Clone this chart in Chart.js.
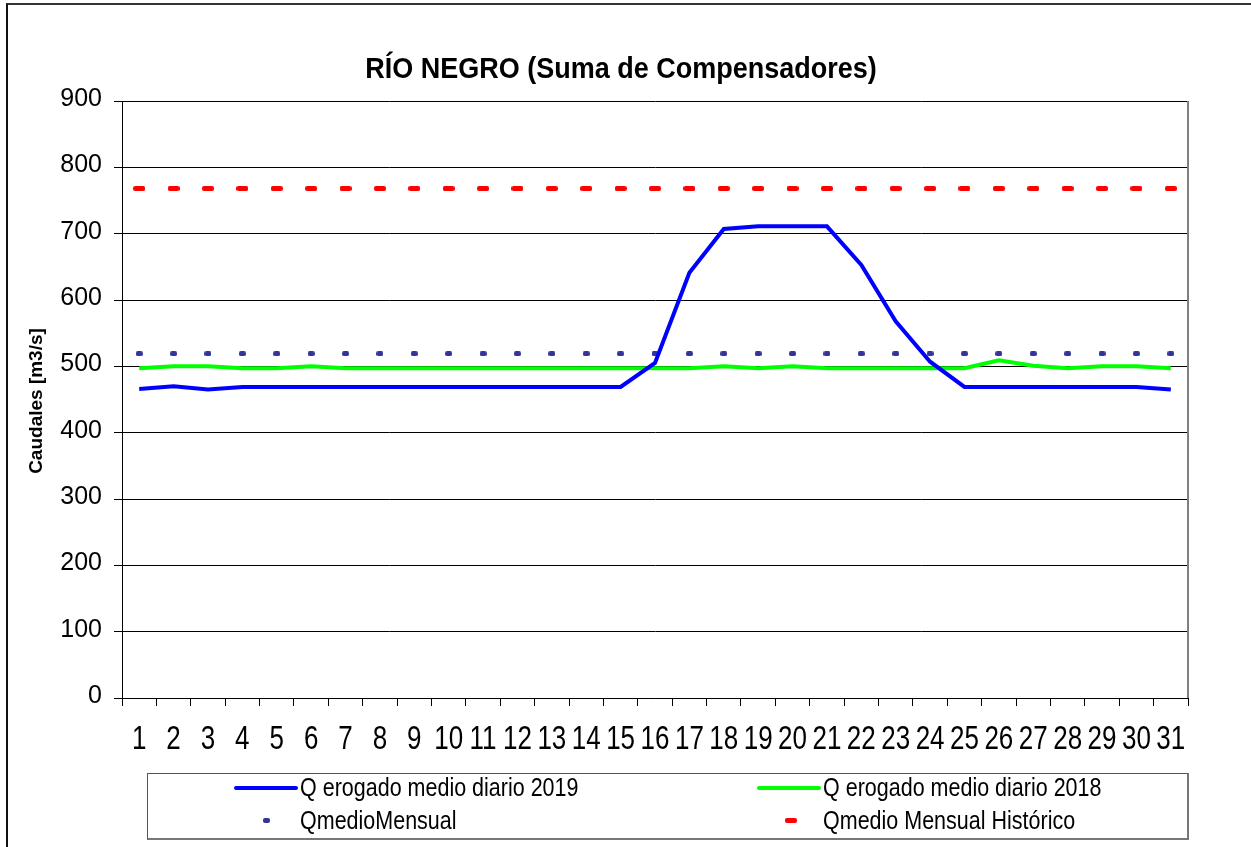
<!DOCTYPE html>
<html>
<head>
<meta charset="utf-8">
<script src="https://cdn.jsdelivr.net/npm/chart.js@4"></script>
<style>
  body { margin: 0; background: #fff; font-family: "Liberation Sans", Arial, sans-serif; }
  #wrap { position: relative; width: 1251px; height: 847px; overflow: hidden; }
  #frame { position: absolute; left: 6px; top: 3px; width: 1300px; height: 900px; border-top: 2px solid #333; border-left: 2px solid #111; }
  canvas { position: absolute; left: 0; top: 0; }
  #legend { position: absolute; left: 147px; top: 773px; width: 1039px; height: 64px; border: 1px solid #444; border-right-width: 2px; border-bottom-width: 2px; border-color: #555 #777 #777 #555; }
  .sw { position: absolute; border-radius: 2px; }
  .lt { position: absolute; font-size: 21.5px; color: #000; line-height: 20px; white-space: nowrap; transform: scaleY(1.2); transform-origin: left center; }
</style>
</head>
<body>
<div id="wrap">
  <div id="frame"></div>
  <canvas id="chart" width="1251" height="847"></canvas>
  <div id="legend">
    <div class="sw" style="left:86px;top:12px;width:64px;height:4px;background:#0000ff"></div>
    <div class="lt" style="left:152px;top:4px">Q erogado medio diario 2019</div>
    <div class="sw" style="left:609px;top:12px;width:64px;height:4px;background:#00ff00"></div>
    <div class="lt" style="left:675px;top:4px">Q erogado medio diario 2018</div>
    <div class="sw" style="left:115px;top:44px;width:7px;height:5px;background:#333399"></div>
    <div class="lt" style="left:152px;top:37px">QmedioMensual</div>
    <div class="sw" style="left:637px;top:44px;width:12px;height:5px;background:#ff0000"></div>
    <div class="lt" style="left:675px;top:37px">Qmedio Mensual Histórico</div>
  </div>
</div>
<script>
const dias = ['1','2','3','4','5','6','7','8','9','10','11','12','13','14','15','16',
  '17','18','19','20','21','22','23','24','25','26','27','28','29','30','31'];

const qErogado2019 = [466, 470, 465, 469, 469, 469, 469, 469, 469, 469, 469, 469, 469, 469, 469,
  505, 641, 707, 711, 711, 711, 653, 568, 507, 469, 469, 469, 469, 469, 469, 465];

const qErogado2018 = [497, 500, 500, 497, 497, 500, 497, 497, 497, 497, 497, 497, 497, 497, 497,
  497, 497, 500, 497, 500, 497, 497, 497, 497, 497, 509, 501, 497, 500, 500, 497];

const qMedioMensual = [519, 519, 519, 519, 519, 519, 519, 519, 519, 519, 519, 519, 519, 519, 519,
  519, 519, 519, 519, 519, 519, 519, 519, 519, 519, 519, 519, 519, 519, 519, 519];

const qMedioHistorico = [768, 768, 768, 768, 768, 768, 768, 768, 768, 768, 768, 768, 768, 768, 768,
  768, 768, 768, 768, 768, 768, 768, 768, 768, 768, 768, 768, 768, 768, 768, 768];

const yTicks = [0, 100, 200, 300, 400, 500, 600, 700, 800, 900];

const FONT = '"Liberation Sans", Arial, sans-serif';

function makeDash(w, h, color) {
  const c = document.createElement('canvas');
  c.width = w;
  c.height = h;
  const g = c.getContext('2d');
  g.fillStyle = color;
  g.beginPath();
  g.roundRect(0, 0, w, h, 2);
  g.fill();
  return c;
}

// tick labels are drawn by hand: the original font is stretched
const decor = {
  id: 'decor',
  afterDraw(chart) {
    const { ctx, chartArea, scales } = chart;
    ctx.save();
    ctx.strokeStyle = '#808080';
    ctx.lineWidth = 2;
    ctx.beginPath();
    ctx.moveTo(chartArea.right, chartArea.top);
    ctx.lineTo(chartArea.right, chartArea.bottom);
    ctx.stroke();

    ctx.fillStyle = '#000';
    ctx.textBaseline = 'middle';

    ctx.font = '25px ' + FONT;
    ctx.textAlign = 'right';
    yTicks.forEach((v) => {
      ctx.fillText(String(v), 102, scales.y.getPixelForValue(v) - 2);
    });

    ctx.font = '26px ' + FONT;
    ctx.textAlign = 'center';
    dias.forEach((d, i) => {
      ctx.save();
      ctx.translate(scales.x.getPixelForValue(i), 740);
      ctx.scale(1, 1.28);
      ctx.fillText(d, 0, 0);
      ctx.restore();
    });

    ctx.font = 'bold 27px ' + FONT;
    ctx.save();
    ctx.translate(621, 70);
    ctx.scale(1, 1.1);
    ctx.fillText('RÍO NEGRO (Suma de Compensadores)', 0, 0);
    ctx.restore();

    ctx.translate(37, 401);
    ctx.rotate(-Math.PI / 2);
    ctx.font = 'bold 19px ' + FONT;
    ctx.fillText('Caudales [m3/s]', 0, 0);
    ctx.restore();
  }
};

new Chart(document.getElementById('chart'), {
  type: 'line',
  data: {
    labels: dias,
    datasets: [
      {
        label: 'Q erogado medio diario 2019',
        data: qErogado2019,
        borderColor: '#0000ff',
        borderWidth: 4,
        pointRadius: 0,
        tension: 0,
        order: 1,
      },
      {
        label: 'Q erogado medio diario 2018',
        data: qErogado2018,
        borderColor: '#00ff00',
        borderWidth: 4,
        pointRadius: 0,
        tension: 0,
        order: 2,
      },
      {
        label: 'QmedioMensual',
        data: qMedioMensual,
        showLine: false,
        pointStyle: makeDash(7, 5, '#333399'),
        order: 3,
      },
      {
        label: 'Qmedio Mensual Histórico',
        data: qMedioHistorico,
        showLine: false,
        pointStyle: makeDash(12, 5, '#ff0000'),
        order: 4,
      },
    ],
  },
  options: {
    responsive: false,
    animation: false,
    layout: { padding: { left: 0, right: 63, top: 101, bottom: 89 } },
    plugins: {
      legend: { display: false },
      tooltip: { enabled: false },
    },
    scales: {
      x: {
        offset: true,
        grid: { offset: true, drawOnChartArea: false, drawTicks: true, tickLength: 8, color: '#000' },
        border: { color: '#000', width: 1 },
        ticks: { display: false, autoSkip: false },
        afterFit(scale) { scale.height = 60; },
      },
      y: {
        min: 0,
        max: 900,
        afterBuildTicks(scale) { scale.ticks = yTicks.map((v) => ({ value: v })); },
        grid: { color: '#000', lineWidth: 1, tickLength: 8 },
        border: { color: '#000', width: 1 },
        ticks: { display: false },
        afterFit(scale) { scale.width = 122; },
      },
    },
  },
  plugins: [decor],
});
</script>
</body>
</html>
